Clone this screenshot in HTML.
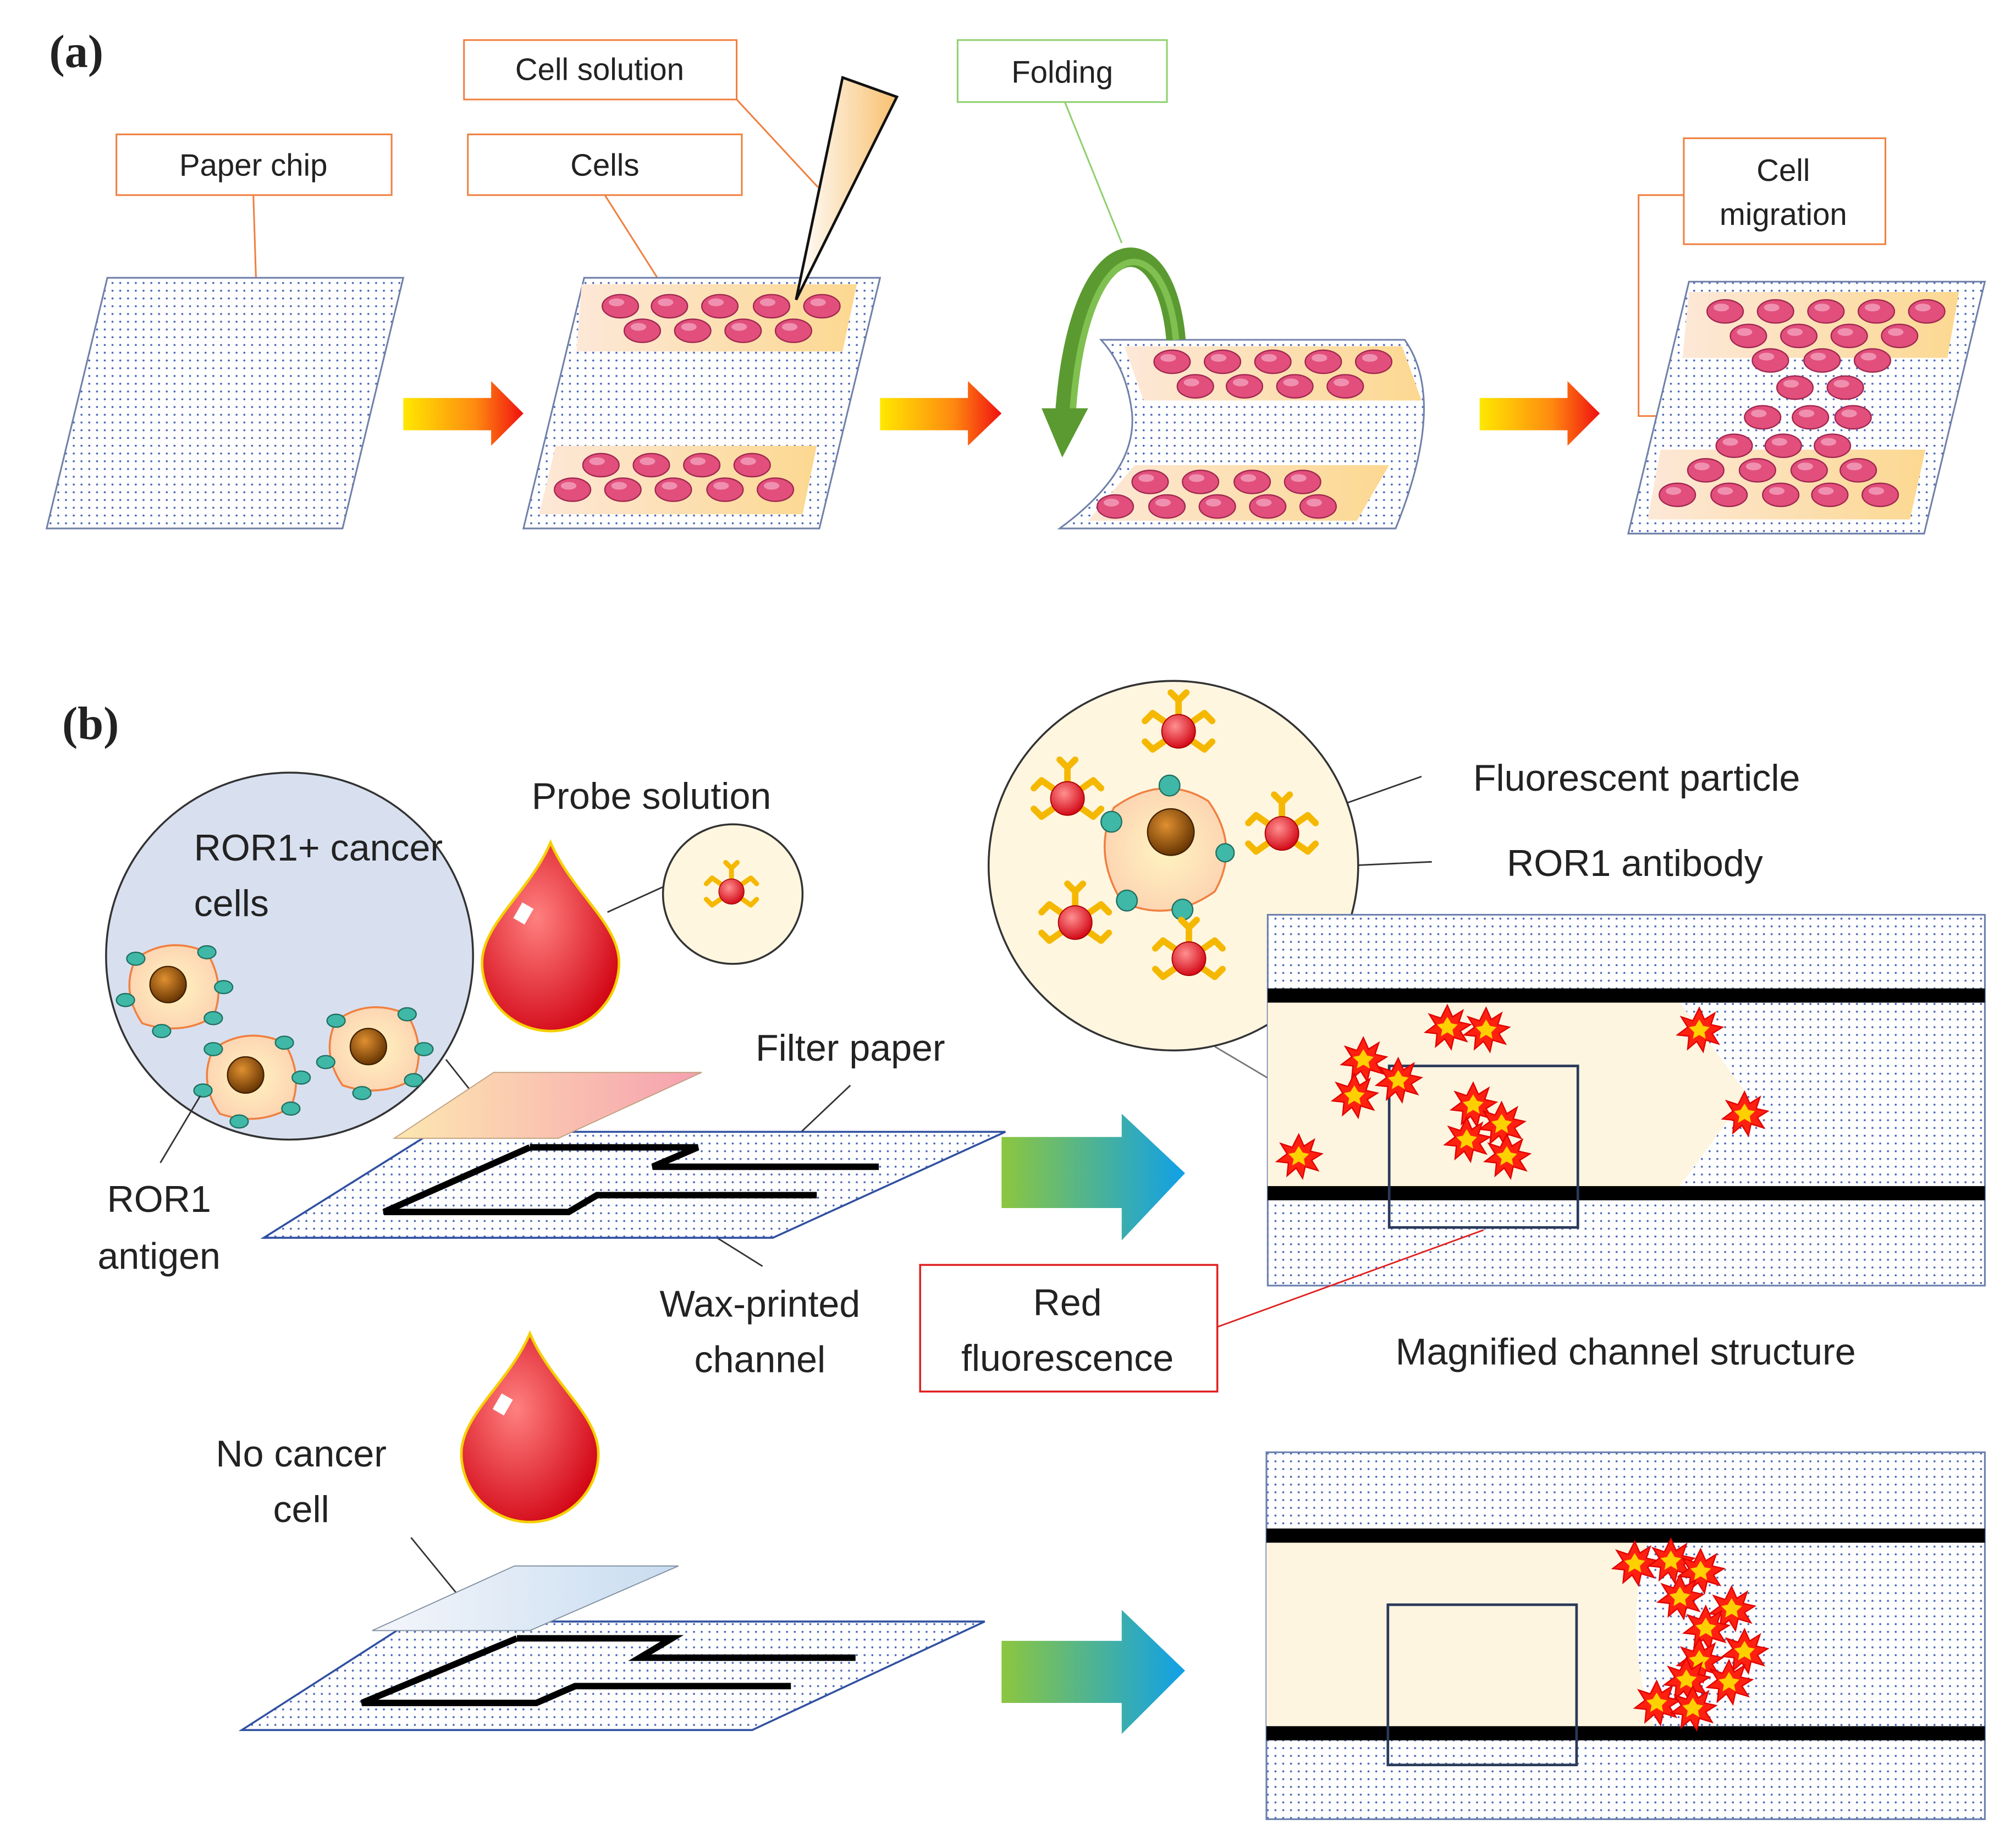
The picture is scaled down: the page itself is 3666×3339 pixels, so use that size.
<!DOCTYPE html>
<html><head><meta charset="utf-8"><style>
html,body{margin:0;padding:0;background:#fff;}
svg{display:block;}
text{font-family:"Liberation Sans",sans-serif;fill:#222;}
</style></head><body>
<svg width="3666" height="3339" viewBox="0 0 1560 1421" xmlns="http://www.w3.org/2000/svg">
<defs>
<pattern id="dots" width="6" height="6" patternUnits="userSpaceOnUse"><rect width="6" height="6" fill="#fff"/><circle cx="3" cy="3" r="0.8" fill="#4a68b8"/></pattern>
<linearGradient id="arr" x1="0" x2="1"><stop offset="0" stop-color="#ffe800"/><stop offset="0.6" stop-color="#ff8a10"/><stop offset="1" stop-color="#f01010"/></linearGradient>
<linearGradient id="barr" x1="0" x2="1"><stop offset="0" stop-color="#8cc63f"/><stop offset="1" stop-color="#10a0e8"/></linearGradient>
<linearGradient id="band" x1="0" x2="1"><stop offset="0" stop-color="#fde8d8"/><stop offset="1" stop-color="#fcd890"/></linearGradient>
<linearGradient id="fp1" x1="0" x2="1"><stop offset="0" stop-color="#fde7b0"/><stop offset="1" stop-color="#f6a0b0"/></linearGradient>
<linearGradient id="fp2" x1="0" x2="1"><stop offset="0" stop-color="#f4f6fb"/><stop offset="1" stop-color="#c8dcf0"/></linearGradient>
<linearGradient id="pip" x1="0" x2="1"><stop offset="0" stop-color="#fff"/><stop offset="1" stop-color="#f8c070"/></linearGradient>
<radialGradient id="drop" cx="0.4" cy="0.4" r="0.7"><stop offset="0" stop-color="#ff8080"/><stop offset="1" stop-color="#d00010"/></radialGradient>
<radialGradient id="ball" cx="0.4" cy="0.35" r="0.7"><stop offset="0" stop-color="#ff9090"/><stop offset="1" stop-color="#d00010"/></radialGradient>
<radialGradient id="cellg" cx="0.5" cy="0.5" r="0.6"><stop offset="0" stop-color="#fff4c0"/><stop offset="1" stop-color="#fcd0b0"/></radialGradient>
<radialGradient id="nuc" cx="0.4" cy="0.35" r="0.7"><stop offset="0" stop-color="#e09030"/><stop offset="1" stop-color="#603000"/></radialGradient>
<g id="c"><ellipse rx="14" ry="9" fill="#e24f7c" stroke="#a02850" stroke-width="1"/><ellipse cx="-3" cy="-3" rx="6" ry="3" fill="#f090b0"/></g>
<g id="burst"><polygon points="0,-17 4,-8 12,-13 9,-4 18,-2 10,3 15,11 5,8 3,17 -2,9 -9,15 -8,5 -17,4 -9,-2 -14,-10 -5,-7" fill="#ff2010" stroke="#e00000" stroke-width="1"/><polygon points="0,-8 3,-3 8,-2 4,2 5,7 0,4 -5,7 -4,2 -8,-2 -3,-3" fill="#ffd000"/></g>
<g id="ab"><g stroke="#f5b800" stroke-width="5" stroke-linecap="round"><line x1="0" y1="0" x2="-20" y2="-14"/><line x1="0" y1="0" x2="20" y2="-14"/><line x1="0" y1="0" x2="-20" y2="14"/><line x1="0" y1="0" x2="20" y2="14"/><line x1="0" y1="0" x2="0" y2="-24"/><line x1="-20" y1="-14" x2="-26" y2="-8"/><line x1="20" y1="-14" x2="26" y2="-8"/><line x1="-20" y1="14" x2="-26" y2="8"/><line x1="20" y1="14" x2="26" y2="8"/><line x1="0" y1="-24" x2="-6" y2="-30"/><line x1="0" y1="-24" x2="6" y2="-30"/></g><circle r="13" fill="url(#ball)" stroke="#a00" stroke-width="0.8"/></g>
<g id="leaf"><ellipse rx="7" ry="5" fill="#40b8a8" stroke="#207060" stroke-width="1"/></g>
<g id="rcell"><path d="M-30,-20 Q-5,-38 25,-25 Q40,0 30,25 Q5,40 -25,30 Q-42,5 -30,-20Z" fill="url(#cellg)" stroke="#f08040" stroke-width="1.5"/><circle cx="-5" cy="0" r="14" fill="url(#nuc)" stroke="#402000"/><use href="#leaf" x="-30" y="-20"/><use href="#leaf" x="25" y="-25"/><use href="#leaf" x="38" y="2"/><use href="#leaf" x="30" y="26"/><use href="#leaf" x="-10" y="36"/><use href="#leaf" x="-38" y="12"/></g>
</defs>

<!-- (a) -->
<text x="38" y="52" style="font-family:'Liberation Serif',serif;font-weight:bold;font-size:36px">(a)</text>
<g fill="none" stroke="#f08040" stroke-width="1.3">
<rect x="90" y="104" width="213" height="47"/><rect x="359" y="31" width="211" height="46"/><rect x="362" y="104" width="212" height="47"/><rect x="1303" y="107" width="156" height="82"/>
<line x1="196" y1="151" x2="198" y2="215"/><line x1="570" y1="77" x2="633" y2="145"/><line x1="468" y1="151" x2="515" y2="225"/>
<polyline points="1303,151 1268,151 1268,322 1350,322"/>
</g>
<rect x="741" y="31" width="162" height="48" fill="none" stroke="#90d070" stroke-width="1.3"/>
<line x1="824" y1="79" x2="868" y2="188" stroke="#90d070" stroke-width="1.3"/>
<g font-size="24" text-anchor="middle"><text x="196" y="136">Paper chip</text><text x="464" y="62">Cell solution</text><text x="468" y="136">Cells</text><text x="822" y="64">Folding</text><text x="1380" y="140">Cell</text><text x="1380" y="174">migration</text></g>

<polygon points="83,215 312,215 265,409 36,409" fill="url(#dots)" stroke="#7080a8" stroke-width="1.3"/>
<polygon points="312,308 380,308 380,295 405,320 380,345 380,333 312,333" fill="url(#arr)"/>
<polygon points="452,215 681,215 634,409 405,409" fill="url(#dots)" stroke="#7080a8" stroke-width="1.3"/>
<polygon points="450,220 663,220 652,272 446,272" fill="url(#band)"/>
<polygon points="430,345 632,345 621,398 417,398" fill="url(#band)"/>
<g><use href="#c" x="480" y="237"/><use href="#c" x="518" y="237"/><use href="#c" x="557" y="237"/><use href="#c" x="597" y="237"/><use href="#c" x="636" y="237"/><use href="#c" x="497" y="256"/><use href="#c" x="536" y="256"/><use href="#c" x="575" y="256"/><use href="#c" x="614" y="256"/>
<use href="#c" x="465" y="360"/><use href="#c" x="504" y="360"/><use href="#c" x="543" y="360"/><use href="#c" x="582" y="360"/><use href="#c" x="443" y="379"/><use href="#c" x="482" y="379"/><use href="#c" x="521" y="379"/><use href="#c" x="561" y="379"/><use href="#c" x="600" y="379"/></g>
<polygon points="652,60 694,75 616,232" fill="url(#pip)" stroke="#111" stroke-width="2"/>
<polygon points="681,308 749,308 749,295 775,320 749,345 749,333 681,333" fill="url(#arr)"/>

<path d="M852,263 L1087,263 Q1120,310 1080,409 L820,409 Q880,365 876,320 Q872,285 852,263Z" fill="url(#dots)" stroke="#7080a8" stroke-width="1.3"/>
<polygon points="870,268 1085,268 1100,310 885,310" fill="url(#band)"/>
<polygon points="878,360 1075,360 1050,403 842,403" fill="url(#band)"/>
<g><use href="#c" x="907" y="280"/><use href="#c" x="946" y="280"/><use href="#c" x="985" y="280"/><use href="#c" x="1024" y="280"/><use href="#c" x="1063" y="280"/><use href="#c" x="925" y="299"/><use href="#c" x="963" y="299"/><use href="#c" x="1002" y="299"/><use href="#c" x="1041" y="299"/>
<use href="#c" x="890" y="373"/><use href="#c" x="929" y="373"/><use href="#c" x="969" y="373"/><use href="#c" x="1008" y="373"/><use href="#c" x="863" y="392"/><use href="#c" x="903" y="392"/><use href="#c" x="942" y="392"/><use href="#c" x="981" y="392"/><use href="#c" x="1020" y="392"/></g>
<path d="M910,263 C902,170 835,170 824,320" fill="none" stroke="#5a9a30" stroke-width="15"/>
<path d="M910,263 C902,175 840,175 830,320" fill="none" stroke="#80c050" stroke-width="5"/>
<polygon points="806,316 842,316 822,354" fill="#5a9a30"/>
<polygon points="1145,308 1213,308 1213,295 1238,320 1213,345 1213,333 1145,333" fill="url(#arr)"/>

<polygon points="1307,218 1536,218 1489,413 1260,413" fill="url(#dots)" stroke="#7080a8" stroke-width="1.3"/>
<polygon points="1307,226 1516,226 1507,277 1302,277" fill="url(#band)"/>
<polygon points="1285,348 1490,348 1478,402 1275,402" fill="url(#band)"/>
<g><use href="#c" x="1335" y="241"/><use href="#c" x="1374" y="241"/><use href="#c" x="1413" y="241"/><use href="#c" x="1452" y="241"/><use href="#c" x="1491" y="241"/><use href="#c" x="1353" y="260"/><use href="#c" x="1392" y="260"/><use href="#c" x="1431" y="260"/><use href="#c" x="1470" y="260"/><use href="#c" x="1370" y="279"/><use href="#c" x="1410" y="279"/><use href="#c" x="1449" y="279"/><use href="#c" x="1389" y="300"/><use href="#c" x="1428" y="300"/><use href="#c" x="1364" y="323"/><use href="#c" x="1401" y="323"/><use href="#c" x="1434" y="323"/><use href="#c" x="1342" y="345"/><use href="#c" x="1380" y="345"/><use href="#c" x="1418" y="345"/><use href="#c" x="1320" y="364"/><use href="#c" x="1360" y="364"/><use href="#c" x="1400" y="364"/><use href="#c" x="1438" y="364"/><use href="#c" x="1298" y="383"/><use href="#c" x="1338" y="383"/><use href="#c" x="1378" y="383"/><use href="#c" x="1416" y="383"/><use href="#c" x="1455" y="383"/></g>

<!-- (b) -->
<text x="48" y="572" style="font-family:'Liberation Serif',serif;font-weight:bold;font-size:36px">(b)</text>
<circle cx="224" cy="740" r="142" fill="#d8e0f0" stroke="#333" stroke-width="1.5"/>
<use href="#rcell" x="135" y="762"/><use href="#rcell" x="195" y="832"/><use href="#rcell" x="290" y="810"/>
<g font-size="29"><text x="150" y="666">ROR1+ cancer</text><text x="150" y="709">cells</text></g>
<g stroke="#333" stroke-width="1.2"><line x1="155" y1="848" x2="124" y2="900"/><line x1="345" y1="820" x2="383" y2="868"/><line x1="470" y1="706" x2="514" y2="686"/><line x1="658" y1="840" x2="620" y2="876"/><line x1="518" y1="935" x2="590" y2="980"/><line x1="318" y1="1190" x2="367" y2="1250"/><line x1="1100" y1="601" x2="990" y2="640"/><line x1="1108" y1="667" x2="1000" y2="672"/><line x1="940" y1="810" x2="1075" y2="890" stroke="#777"/></g>
<g font-size="29" text-anchor="middle"><text x="123" y="938">ROR1</text><text x="123" y="982">antigen</text><text x="504" y="626">Probe solution</text><text x="658" y="821">Filter paper</text><text x="588" y="1019">Wax-printed</text><text x="588" y="1062">channel</text><text x="826" y="1018">Red</text><text x="826" y="1061">fluorescence</text><text x="1258" y="1056">Magnified channel structure</text><text x="233" y="1135">No cancer</text><text x="233" y="1178">cell</text></g>
<g font-size="29"><text x="1140" y="612">Fluorescent particle</text><text x="1166" y="678">ROR1 antibody</text></g>

<path d="M426,652 C410,690 373,715 373,745 A53,53 0 0 0 479,745 C479,715 442,690 426,652Z" fill="url(#drop)" stroke="#f5d000" stroke-width="2"/>
<rect x="400" y="700" width="10" height="14" fill="#fff" transform="rotate(30 405 707)"/>
<path d="M410,1032 C394,1070 357,1095 357,1125 A53,53 0 0 0 463,1125 C463,1095 426,1070 410,1032Z" fill="url(#drop)" stroke="#f5d000" stroke-width="2"/>
<rect x="384" y="1080" width="10" height="14" fill="#fff" transform="rotate(30 389 1087)"/>

<circle cx="567" cy="692" r="54" fill="#fff6e0" stroke="#333" stroke-width="1.5"/>
<use href="#ab" x="566" y="690" transform="translate(566 690) scale(0.75) translate(-566 -690)"/>

<polygon points="335,876 778,876 598,958 204,958" fill="url(#dots)" stroke="#3050a0" stroke-width="1.5"/>
<polygon points="382,830 543,830 432,881 305,881" fill="url(#fp1)" stroke="#c0a080" stroke-width="0.8"/>
<g fill="none" stroke="#000" stroke-width="5"><polyline points="410,888 540,888 505,903 680,903"/><polyline points="410,888 297,938 440,938 462,925 632,925"/></g>
<polygon points="775,880 868,880 868,862 917,908 868,960 868,935 775,935" fill="url(#barr)"/>

<polygon points="318,1255 762,1255 582,1339 187,1339" fill="url(#dots)" stroke="#3050a0" stroke-width="1.5"/>
<polygon points="398,1212 525,1212 410,1262 288,1262" fill="url(#fp2)" stroke="#8090a0" stroke-width="0.8"/>
<g fill="none" stroke="#000" stroke-width="5"><polyline points="400,1268 520,1268 495,1283 662,1283"/><polyline points="400,1268 280,1318 415,1318 445,1305 612,1305"/></g>
<polygon points="775,1270 868,1270 868,1246 917,1293 868,1342 868,1318 775,1318" fill="url(#barr)"/>

<!-- right circle -->
<circle cx="908" cy="670" r="143" fill="#fff6e0" stroke="#333" stroke-width="1.5"/>
<path d="M862,625 Q900,598 935,620 Q960,655 940,690 Q905,715 868,698 Q845,660 862,625Z" fill="url(#cellg)" stroke="#f08040" stroke-width="1.5"/>
<circle cx="906" cy="644" r="18" fill="url(#nuc)" stroke="#402000"/>
<g fill="#40b8a8" stroke="#207060"><circle cx="905" cy="608" r="8"/><circle cx="860" cy="636" r="8"/><circle cx="948" cy="660" r="7"/><circle cx="872" cy="697" r="8"/><circle cx="915" cy="704" r="8"/></g>
<use href="#ab" x="0" y="0" transform="translate(912 566)"/>
<use href="#ab" transform="translate(826 618)"/>
<use href="#ab" transform="translate(992 645)"/>
<use href="#ab" transform="translate(832 714)"/>
<use href="#ab" transform="translate(920 742)"/>

<!-- channel panel 1 -->
<rect x="981" y="708" width="555" height="287" fill="url(#dots)" stroke="#6a7fae" stroke-width="1.3"/>
<polygon points="981,776 1300,776 1352,847 1300,918 981,918" fill="#fdf5e0"/>
<rect x="981" y="765" width="555" height="11" fill="#000"/><rect x="981" y="918" width="555" height="11" fill="#000"/>
<rect x="1075" y="825" width="146" height="125" fill="none" stroke="#2a3a5a" stroke-width="2"/>
<g><use href="#burst" x="1055" y="820"/><use href="#burst" x="1048" y="848"/><use href="#burst" x="1082" y="836"/><use href="#burst" x="1120" y="795"/><use href="#burst" x="1150" y="797"/><use href="#burst" x="1140" y="855"/><use href="#burst" x="1162" y="870"/><use href="#burst" x="1135" y="882"/><use href="#burst" x="1166" y="895"/><use href="#burst" x="1005" y="895"/><use href="#burst" x="1315" y="797"/><use href="#burst" x="1350" y="862"/></g>
<rect x="712" y="979" width="230" height="98" fill="none" stroke="#e02020" stroke-width="1.5"/>
<line x1="942" y1="1027" x2="1148" y2="952" stroke="#e02020" stroke-width="1.2"/>

<!-- channel panel 2 -->
<rect x="980" y="1124" width="556" height="284" fill="url(#dots)" stroke="#6a7fae" stroke-width="1.3"/>
<path d="M980,1194 L1275,1194 Q1255,1265 1280,1336 L980,1336Z" fill="#fdf5e0"/>
<rect x="980" y="1183" width="556" height="11" fill="#000"/><rect x="980" y="1336" width="556" height="11" fill="#000"/>
<rect x="1074" y="1242" width="146" height="124" fill="none" stroke="#2a3a5a" stroke-width="2"/>
<g><use href="#burst" x="1265" y="1210"/><use href="#burst" x="1293" y="1208"/><use href="#burst" x="1316" y="1216"/><use href="#burst" x="1300" y="1236"/><use href="#burst" x="1340" y="1245"/><use href="#burst" x="1320" y="1260"/><use href="#burst" x="1350" y="1278"/><use href="#burst" x="1315" y="1285"/><use href="#burst" x="1338" y="1302"/><use href="#burst" x="1305" y="1300"/><use href="#burst" x="1282" y="1318"/><use href="#burst" x="1310" y="1322"/></g>
</svg>
</body></html>
